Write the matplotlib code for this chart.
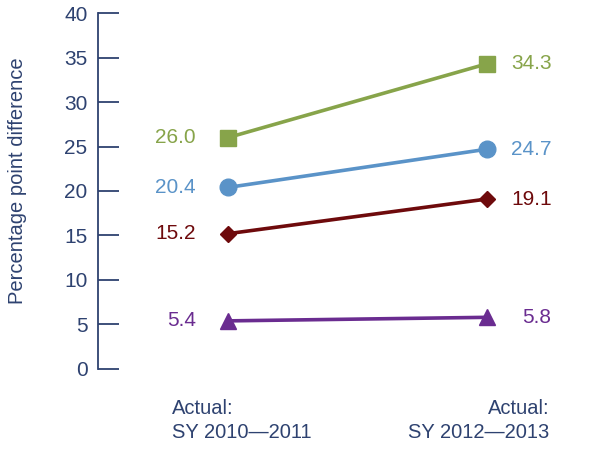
import matplotlib.pyplot as plt

plt.rcParams['font.family'] = ['Liberation Sans', 'DejaVu Sans']

periods = ['Actual:\nSY 2010\u20142011', 'Actual:\nSY 2012\u20142013']
green = [26.0, 34.3]
blue = [20.4, 24.7]
red = [15.2, 19.1]
purple = [5.4, 5.8]

navy = '#2e4270'
series = [
    (green, '#87a44a', 's', 12),
    (blue, '#5a93c8', 'o', 12),
    (red, '#6e0a0c', 'D', 8.5),
    (purple, '#6a2c90', '^', 12),
]


def main():
    fig = plt.figure(figsize=(6, 4.51), dpi=100)
    ax = fig.add_axes([0.163, 0.182, 0.837, 0.789])
    xs = [0, 1]
    for vals, col, mk, ms in series:
        ax.plot(xs, vals, color=col, lw=2.6, marker=mk, ms=ms, mec=col, mfc=col,
                clip_on=False, zorder=3)
        ax.annotate(f'{vals[0]:.1f}', (0, vals[0]), xytext=(-23, 0),
                    textcoords='offset points', ha='right', va='center',
                    color=col, fontsize=15)
        ax.annotate(f'{vals[1]:.1f}', (1, vals[1]), xytext=(46.5, 0),
                    textcoords='offset points', ha='right', va='center',
                    color=col, fontsize=15)

    ax.set_xlim(-0.502, 1.436)
    ax.set_ylim(0, 40)
    ax.set_yticks(range(0, 41, 5))
    ax.set_xticks([])
    for s in ['top', 'right', 'bottom']:
        ax.spines[s].set_visible(False)
    ax.spines['left'].set_color(navy)
    ax.spines['left'].set_linewidth(1.3)
    ax.tick_params(axis='y', direction='in', length=15, width=1.3, color=navy,
                   labelcolor=navy, labelsize=15, pad=-2)
    for lab in ax.get_yticklabels():
        lab.set_x(-0.026)
    ax.set_ylabel('Percentage point difference', color=navy, fontsize=14.5)
    ax.yaxis.set_label_coords(-0.14, 0.53)

    ax.text(-0.215, -0.085, periods[0], transform=ax.get_xaxis_transform(),
            ha='left', va='top', color=navy, fontsize=14.5, linespacing=1.3)
    ax.text(1.24, -0.085, periods[1], transform=ax.get_xaxis_transform(),
            ha='right', va='top', color=navy, fontsize=14.5, linespacing=1.3,
            multialignment='right')

    fig.savefig('out.png', dpi=100)


if __name__ == '__main__':
    main()
